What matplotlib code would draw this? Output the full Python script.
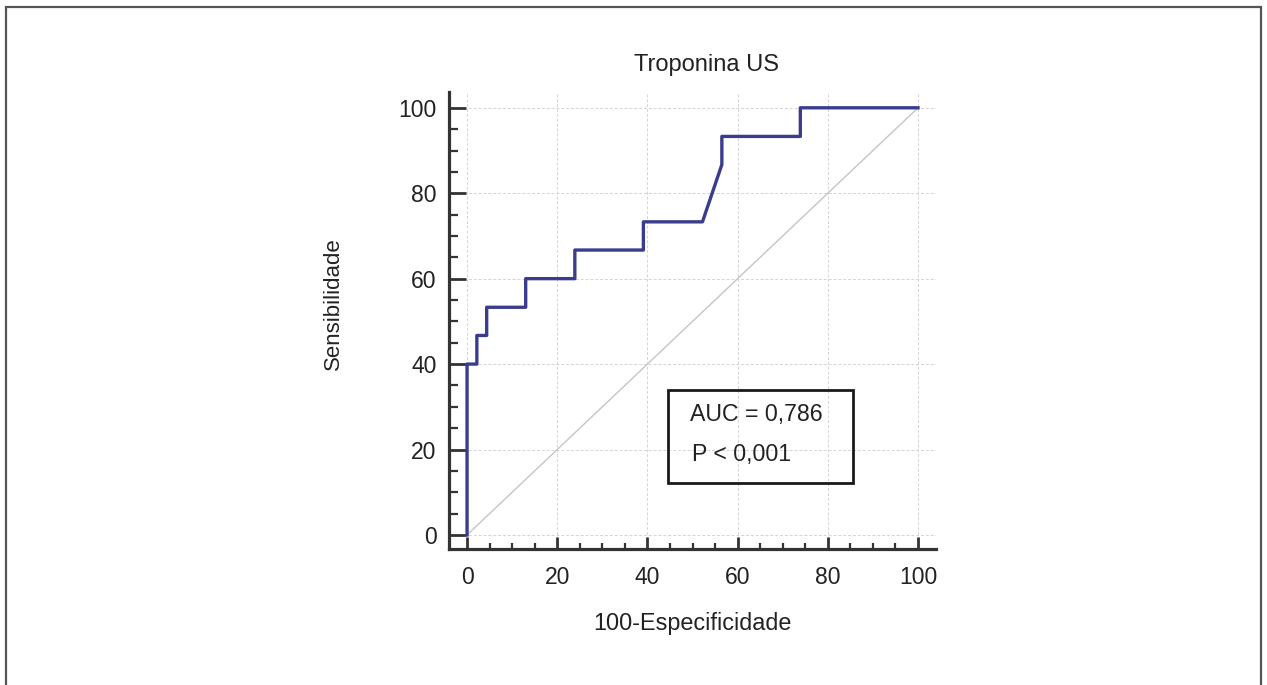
import matplotlib
matplotlib.use("Agg")
import matplotlib.pyplot as plt
from matplotlib.patches import Rectangle
from matplotlib.ticker import MultipleLocator

plt.rcParams['font.family'] = ['Liberation Sans', 'DejaVu Sans']

# ROC curve (100-specificity, sensitivity)
fpr = [0, 0, 2.17, 2.17, 4.35, 4.35, 13.0, 13.0, 23.9, 23.9, 39.1, 39.1,
       52.2, 56.5, 56.5, 73.9, 73.9, 100]
tpr = [0, 40, 40, 46.7, 46.7, 53.3, 53.3, 60, 60, 66.7, 66.7, 73.3,
       73.3, 86.7, 93.3, 93.3, 100, 100]
ref_line = [0, 100]
ticks = [0, 20, 40, 60, 80, 100]

title = 'Troponina US'
xlabel = '100-Especificidade'
ylabel = 'Sensibilidade'
stats = ['AUC = 0,786', 'P < 0,001']

fig = plt.figure(figsize=(12.67, 6.85), dpi=100)
ax = fig.add_axes([0.3544, 0.1985, 0.3844, 0.6672])

ax.grid(True, which='major', linestyle=(0, (3, 2)), color='#d4d4d4', linewidth=0.7)
ax.set_axisbelow(True)
ax.plot(ref_line, ref_line, color='#cbc3c3', linewidth=1.0, zorder=2)
ax.plot(fpr, tpr, color='#3a3d8c', linewidth=2.4, zorder=3)

ax.set_xlim(-4, 104)
ax.set_ylim(-3.3, 103.7)
ax.set_xticks(ticks)
ax.set_yticks(ticks)
ax.xaxis.set_minor_locator(MultipleLocator(5))
ax.yaxis.set_minor_locator(MultipleLocator(5))

for side in ['top', 'right']:
    ax.spines[side].set_visible(False)
for side in ['left', 'bottom']:
    ax.spines[side].set_color('#333333')
    ax.spines[side].set_linewidth(2.3)

ax.tick_params(axis='both', which='both', direction='in', color='#333333')
ax.tick_params(axis='y', which='major', length=12, width=2.0, pad=9, labelsize=16.5, labelcolor='#222222')
ax.tick_params(axis='y', which='minor', length=6.5, width=1.6)
ax.tick_params(axis='x', which='major', length=8.6, width=2.0, pad=12, labelsize=16.5, labelcolor='#222222')
ax.tick_params(axis='x', which='minor', length=4.3, width=1.6)

ax.set_xlabel(xlabel, fontsize=16.8, color='#222222', labelpad=17)
ax.set_ylabel(ylabel, fontsize=16, color='#222222')
ax.yaxis.set_label_coords(-0.215, 0.538)
ax.set_title(title, fontsize=17, color='#222222', pad=15, x=0.528)

# statistics box
ax.add_patch(Rectangle((44.6, 12.2), 41.0, 21.8, fill=False, edgecolor='#1a1a1a',
                       linewidth=2.0, zorder=4))
ax.text(49.5, 28.2, stats[0], fontsize=16.7, color='#222222', va='center', zorder=5)
ax.text(49.8, 18.8, stats[1], fontsize=16.7, color='#222222', va='center', zorder=5)

# outer frame of the figure
fig.patches.append(Rectangle((0.0051, -0.02), 0.9902, 1.0098, transform=fig.transFigure,
                             fill=False, edgecolor='#555555', linewidth=1.6))

fig.savefig('out.png', dpi=100)
